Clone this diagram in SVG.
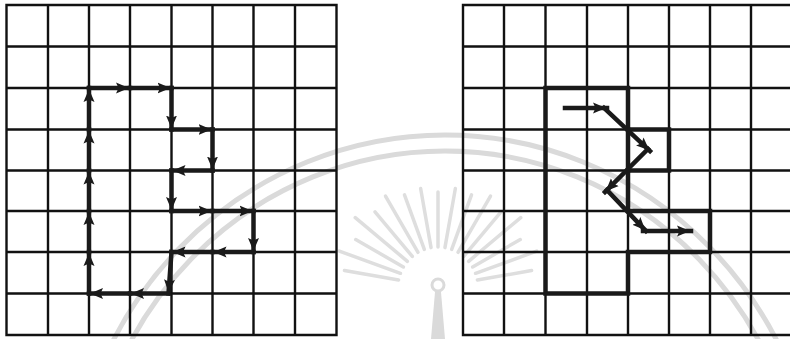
<svg xmlns="http://www.w3.org/2000/svg" width="790" height="339" viewBox="0 0 790 339">
<style>
.wm{fill:none;stroke:#dadada;stroke-width:5}
.ray{stroke:#dedede;stroke-width:3.5;stroke-linecap:round}
.grid{fill:none;stroke:#111;stroke-width:2.4;stroke-linecap:square}
.thick{fill:none;stroke:#1a1a1a;stroke-width:4.5;stroke-linejoin:miter;stroke-linecap:square}
.seg{stroke:#1a1a1a;stroke-width:4.5;stroke-linecap:square;marker-end:url(#ah)}
</style>
<defs>
<marker id="ah" markerUnits="userSpaceOnUse" markerWidth="16" markerHeight="12" refX="14" refY="6" orient="auto">
<path d="M0,0.5 L13,6 L0,11.5 L2.5,6 z" fill="#1a1a1a"/>
</marker>
</defs>
<rect width="790" height="339" fill="#fff"/>
<g id="watermark">
<ellipse class="wm" cx="445" cy="520" rx="375" ry="385"/>
<ellipse class="wm" cx="445" cy="520" rx="359" ry="369"/>
<g transform="translate(438 287)">
<line class="ray" x1="40" y1="0" x2="95" y2="0" transform="rotate(-170)"/>
<line class="ray" x1="40" y1="0" x2="105" y2="0" transform="rotate(-160)"/>
<line class="ray" x1="40" y1="0" x2="95" y2="0" transform="rotate(-150)"/>
<line class="ray" x1="40" y1="0" x2="108" y2="0" transform="rotate(-140)"/>
<line class="ray" x1="40" y1="0" x2="98" y2="0" transform="rotate(-130)"/>
<line class="ray" x1="40" y1="0" x2="105" y2="0" transform="rotate(-120)"/>
<line class="ray" x1="40" y1="0" x2="98" y2="0" transform="rotate(-110)"/>
<line class="ray" x1="40" y1="0" x2="100" y2="0" transform="rotate(-100)"/>
<line class="ray" x1="40" y1="0" x2="95" y2="0" transform="rotate(-90)"/>
<line class="ray" x1="40" y1="0" x2="100" y2="0" transform="rotate(-80)"/>
<line class="ray" x1="40" y1="0" x2="98" y2="0" transform="rotate(-70)"/>
<line class="ray" x1="40" y1="0" x2="105" y2="0" transform="rotate(-60)"/>
<line class="ray" x1="40" y1="0" x2="98" y2="0" transform="rotate(-50)"/>
<line class="ray" x1="40" y1="0" x2="108" y2="0" transform="rotate(-40)"/>
<line class="ray" x1="40" y1="0" x2="95" y2="0" transform="rotate(-30)"/>
<line class="ray" x1="40" y1="0" x2="105" y2="0" transform="rotate(-20)"/>
<line class="ray" x1="40" y1="0" x2="95" y2="0" transform="rotate(-10)"/>
<circle cx="0" cy="-2" r="6" fill="none" stroke="#dadada" stroke-width="3"/>
<path d="M-3,5 L3,5 L7,52 L-7,52 z" fill="#dadada"/>
</g>
</g>
<g id="grid-left">
<path class="grid" d="M6.5,5V335M48,5V335M89,5V335M130,5V335M171.5,5V335M212.5,5V335M253.5,5V335M295,5V335M336.5,5V335
M6.5,5H336.5M6.5,46.5H336.5M6.5,88H336.5M6.5,129.5H336.5M6.5,170.5H336.5M6.5,211H336.5M6.5,252H336.5M6.5,293.5H336.5M6.5,335H336.5"/>
</g>
<g id="grid-right">
<path class="grid" d="M463,5V335M504,5V335M545.5,5V335M587,5V335M628,5V335M669,5V335M710,5V335M751,5V335
M463,5H792M463,46.5H792M463,88H792M463,129.5H792M463,170.5H792M463,211H792M463,252H792M463,293.5H792M463,335H792"/>
</g>
<g id="region-right">
<path class="thick" d="M545.5,88 H628 V129.5 H669 V170.5 H628 V211 H710 V252 H628 V293.5 H545.5 Z"/>
<path class="thick" d="M628,129.5 V170.5"/>
</g>
<g id="connectors">
<g id="path-left">
<line class="seg" x1="89" y1="88" x2="130" y2="88"/>
<line class="seg" x1="130" y1="88" x2="171.5" y2="88"/>
<line class="seg" x1="171.5" y1="88" x2="171.5" y2="129.5"/>
<line class="seg" x1="171.5" y1="129.5" x2="212.5" y2="129.5"/>
<line class="seg" x1="212.5" y1="129.5" x2="212.5" y2="170.5"/>
<line class="seg" x1="212.5" y1="170.5" x2="171.5" y2="170.5"/>
<line class="seg" x1="171.5" y1="170.5" x2="171.5" y2="211"/>
<line class="seg" x1="171.5" y1="211" x2="212.5" y2="211"/>
<line class="seg" x1="212.5" y1="211" x2="253.5" y2="211"/>
<line class="seg" x1="253.5" y1="211" x2="253.5" y2="252"/>
<line class="seg" x1="253.5" y1="252" x2="212.5" y2="252"/>
<line class="seg" x1="212.5" y1="252" x2="171.5" y2="252"/>
<line class="seg" x1="171.5" y1="252" x2="168.5" y2="293.5"/>
<line class="seg" x1="168.5" y1="293.5" x2="130" y2="293.5"/>
<line class="seg" x1="130" y1="293.5" x2="89" y2="293.5"/>
<line class="seg" x1="89" y1="293.5" x2="89" y2="252"/>
<line class="seg" x1="89" y1="252" x2="89" y2="211"/>
<line class="seg" x1="89" y1="211" x2="89" y2="170.5"/>
<line class="seg" x1="89" y1="170.5" x2="89" y2="129.5"/>
<line class="seg" x1="89" y1="129.5" x2="89" y2="88"/>
</g>
<g id="path-right">
<line class="seg" x1="565" y1="108" x2="607" y2="108"/>
<line class="seg" x1="604" y1="108" x2="650" y2="151"/>
<line class="seg" x1="648" y1="149" x2="605" y2="192"/>
<line class="seg" x1="607" y1="190" x2="646" y2="231"/>
<line class="seg" x1="643" y1="231" x2="691" y2="231"/>
</g>
</g>
</svg>
